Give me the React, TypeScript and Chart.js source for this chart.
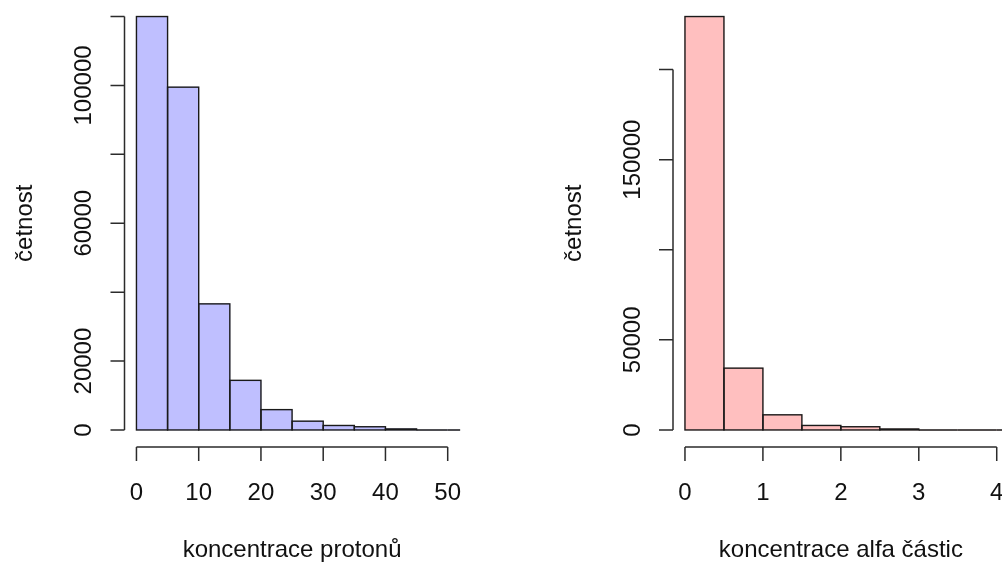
import React, { useEffect, useRef } from 'react';
import { Chart, registerables } from 'chart.js';

Chart.register(...registerables);

// ---- data ----
const protonBinEdges = [0, 5, 10, 15, 20, 25, 30, 35, 40, 45, 50, 55];
const protonCounts = [120000, 99500, 36600, 14400, 5900, 2550, 1300, 930, 300, 0, 0];
const protonXTicks = [0, 10, 20, 30, 40, 50];
const protonYTicks = [0, 20000, 40000, 60000, 80000, 100000, 120000];
const protonXLim = [0, 50];

const alphaBinEdges = [0, 0.5, 1, 1.5, 2, 2.5, 3, 3.5, 4, 4.5];
const alphaCounts = [229400, 34300, 8400, 2500, 1780, 550, 0, 0, 0];
const alphaXTicks = [0, 1, 2, 3, 4];
const alphaYTicks = [0, 50000, 100000, 150000, 200000];
const alphaXLim = [0, 4];

const protonXLabel = 'koncentrace protonů';
const alphaXLabel = 'koncentrace alfa částic';
const yLabel = 'četnost';

const FONT = '24px "Liberation Sans", Arial, sans-serif';
const AXIS_COLOR = '#2b2b2b';
const TEXT_COLOR = '#111';

type PanelProps = {
  edges: number[];
  counts: number[];
  xTicks: number[];
  yTicks: number[];
  xLim: number[];
  xLabel: string;
  fill: string;
  width: number;
  padLeft: number;
  padRight: number;
};

const rAxesPlugin = (xTicks: number[], yTicks: number[], xLabel: string) => ({
  id: 'rAxes',
  afterDatasetsDraw(chart: any) {
    const ctx = chart.ctx as CanvasRenderingContext2D;
    const area = chart.chartArea;
    const meta = chart.getDatasetMeta(0);
    ctx.save();
    ctx.beginPath();
    ctx.rect(area.left, area.top, area.right - area.left, area.bottom - area.top);
    ctx.clip();
    ctx.strokeStyle = '#1a1a1a';
    ctx.lineWidth = 1.4;
    meta.data.forEach((bar: any) => {
      const p = bar.getProps(['x', 'y', 'base', 'width'], true);
      ctx.strokeRect(p.x - p.width / 2, p.y, p.width, p.base - p.y);
    });
    ctx.restore();
  },
  afterDraw(chart: any) {
    const ctx = chart.ctx as CanvasRenderingContext2D;
    const area = chart.chartArea;
    const xs = chart.scales.x;
    const ys = chart.scales.y;
    const tick = 14;
    ctx.save();
    ctx.strokeStyle = AXIS_COLOR;
    ctx.lineWidth = 1.5;
    ctx.font = FONT;
    ctx.fillStyle = TEXT_COLOR;
    const gap = ctx.measureText('m').width;

    // x axis
    const axY = area.bottom + 0.5;
    const x0 = xs.getPixelForValue(xTicks[0]);
    const x1 = xs.getPixelForValue(xTicks[xTicks.length - 1]);
    ctx.beginPath();
    ctx.moveTo(x0, axY);
    ctx.lineTo(x1, axY);
    xTicks.forEach((v) => {
      const px = xs.getPixelForValue(v);
      ctx.moveTo(px, axY);
      ctx.lineTo(px, axY + tick);
    });
    ctx.stroke();
    ctx.textAlign = 'center';
    ctx.textBaseline = 'alphabetic';
    let lastEnd = -Infinity;
    xTicks.forEach((v) => {
      const px = xs.getPixelForValue(v);
      const s = String(v);
      const w = ctx.measureText(s).width;
      if (px - w / 2 - lastEnd >= gap) {
        ctx.fillText(s, px, 499.5);
        lastEnd = px + w / 2;
      }
    });
    ctx.fillText(xLabel, (area.left + area.right) / 2, 557);

    // y axis
    const axX = area.left + 0.5;
    const y0 = ys.getPixelForValue(yTicks[0]);
    const y1 = ys.getPixelForValue(yTicks[yTicks.length - 1]);
    ctx.beginPath();
    ctx.moveTo(axX, y0);
    ctx.lineTo(axX, y1);
    yTicks.forEach((v) => {
      const py = ys.getPixelForValue(v);
      ctx.moveTo(axX, py);
      ctx.lineTo(axX - tick, py);
    });
    ctx.stroke();
    let lastTop = Infinity;
    yTicks.forEach((v) => {
      const py = ys.getPixelForValue(v);
      const s = String(v);
      const w = ctx.measureText(s).width;
      if (lastTop - (py + w / 2) >= gap) {
        ctx.save();
        ctx.translate(axX - 33.5, py);
        ctx.rotate(-Math.PI / 2);
        ctx.fillText(s, 0, 0);
        ctx.restore();
        lastTop = py - w / 2;
      }
    });
    ctx.save();
    ctx.translate(axX - 92.5, (area.top + area.bottom) / 2);
    ctx.rotate(-Math.PI / 2);
    ctx.fillText(yLabel, 0, 0);
    ctx.restore();
    ctx.restore();
  },
});

function Panel(props: PanelProps) {
  const ref = useRef<HTMLCanvasElement | null>(null);
  useEffect(() => {
    if (!ref.current) return;
    const { edges, counts, xTicks, yTicks, xLim, xLabel, fill, padLeft, padRight } = props;
    const data = counts.map((c, i) => ({ x: (edges[i] + edges[i + 1]) / 2, y: c }));
    const xr = xLim[1] - xLim[0];
    const ymax = Math.max(...counts);
    const chart = new Chart(ref.current, {
      type: 'bar',
      data: {
        datasets: [
          {
            data: data as any,
            backgroundColor: fill,
            borderWidth: 0,
            barPercentage: 1,
            categoryPercentage: 1,
            clip: 0 as any,
          },
        ],
      },
      options: {
        responsive: false,
        maintainAspectRatio: false,
        devicePixelRatio: 1,
        animation: false,
        events: [],
        layout: { padding: { left: padLeft, right: padRight, top: 0, bottom: 118.5 } },
        plugins: { legend: { display: false }, tooltip: { enabled: false } },
        scales: {
          x: {
            type: 'linear',
            display: false,
            offset: false,
            min: xLim[0] - 0.04 * xr,
            max: xLim[1] + 0.04 * xr,
            afterBuildTicks: (s: any) => {
              s.ticks = xTicks.map((v) => ({ value: v }));
            },
          },
          y: {
            type: 'linear',
            display: false,
            min: -0.04 * ymax,
            max: 1.04 * ymax,
          },
        },
      },
      plugins: [rAxesPlugin(xTicks, yTicks, xLabel)],
    });
    return () => chart.destroy();
  }, []);
  return <canvas ref={ref} width={props.width} height={565} style={{ display: 'block' }} />;
}

export default function App() {
  return (
    <div
      style={{
        position: 'absolute',
        left: 0,
        top: 0,
        width: 1002,
        height: 565,
        overflow: 'hidden',
        background: '#fff',
      }}
    >
      <div style={{ position: 'absolute', left: 0, top: 0 }}>
        <Panel
          edges={protonBinEdges}
          counts={protonCounts}
          xTicks={protonXTicks}
          yTicks={protonYTicks}
          xLim={protonXLim}
          xLabel={protonXLabel}
          fill="rgb(191,191,255)"
          width={501}
          padLeft={124}
          padRight={40.85}
        />
      </div>
      <div style={{ position: 'absolute', left: 501, top: 0 }}>
        <Panel
          edges={alphaBinEdges}
          counts={alphaCounts}
          xTicks={alphaXTicks}
          yTicks={alphaYTicks}
          xLim={alphaXLim}
          xLabel={alphaXLabel}
          fill="rgb(255,191,191)"
          width={520}
          padLeft={171.5}
          padRight={11.8}
        />
      </div>
    </div>
  );
}
